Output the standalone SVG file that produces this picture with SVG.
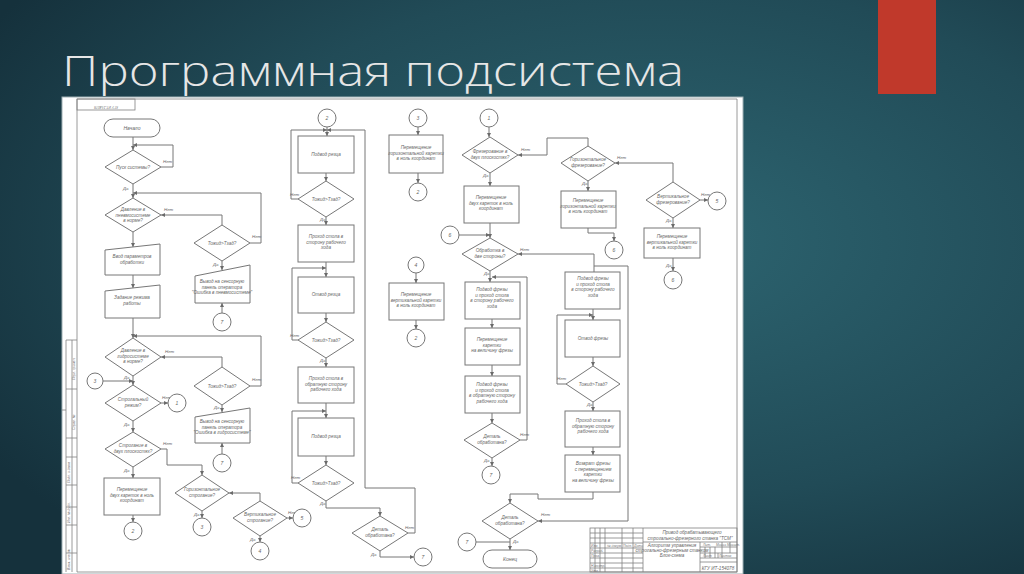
<svg xmlns="http://www.w3.org/2000/svg" width="1024" height="574" viewBox="0 0 1024 574">
<defs>
<radialGradient id="bg" cx="0.64" cy="0.42" r="0.75">
<stop offset="0" stop-color="#2d6571"/>
<stop offset="0.6" stop-color="#214b57"/>
<stop offset="1" stop-color="#15313c"/>
</radialGradient>
<marker id="ar" viewBox="0 0 6 6" refX="6" refY="3" markerWidth="4" markerHeight="4" markerUnits="userSpaceOnUse" orient="auto">
<path d="M0,0 L6,3 L0,6 z" fill="#6a6a6a"/>
</marker>
</defs>
<style>
.ln{fill:none;stroke:#777;stroke-width:1}
.sh{fill:#fff;stroke:#777;stroke-width:1}
.fr{fill:none;stroke:#808080;stroke-width:0.8}
.t{font-family:"Liberation Sans",Arial,sans-serif;font-style:italic;font-size:4.6px;fill:#666;text-anchor:middle}
.lb{font-family:"Liberation Sans",Arial,sans-serif;font-style:italic;font-size:4.4px;fill:#666}
.c{font-family:"Liberation Sans",Arial,sans-serif;font-style:italic;font-size:5px;fill:#666;text-anchor:middle}
.s{font-family:"Liberation Sans",Arial,sans-serif;font-style:italic;font-size:3.4px;fill:#777}
</style>
<rect x="0" y="0" width="1024" height="574" fill="url(#bg)"/>
<rect x="878" y="0" width="58" height="94" fill="#c0392b"/>
<text x="62" y="86" font-family="'Open Sans','Liberation Sans',sans-serif" font-weight="300" font-size="42" fill="#e6e6e6" textLength="622" lengthAdjust="spacingAndGlyphs">Программная подсистема</text>

<g id="sheet">
<rect x="62" y="97" width="681" height="477" fill="#fff" stroke="#9fb0b4" stroke-width="1"/>
<polyline class="fr" points="77,572 77,99 737,99 737,572 77,572"/>
<rect class="fr" x="77" y="99" width="58" height="11"/>
<text class="s" x="106" y="103.5" text-anchor="middle" transform="rotate(180 106 104.5)" font-size="4.5">КГУ ИТ-154078</text>
<path class="fr" d="M66,340 V572 M72,340 V572 M66,340 H77 M66,389 H77 M66,438 H77 M66,457 H77 M66,485 H77 M66,507 H77 M66,525 H77 M66,553 H77 M62,410 H66"/>
<text class="s" transform="translate(75,380) rotate(-90)">Перв. примен.</text>
<text class="s" transform="translate(75,430) rotate(-90)">Справ. №</text>
<text class="s" transform="translate(70,483) rotate(-90)">Подп. и дата</text>
<text class="s" transform="translate(70,523) rotate(-90)">Инв. № дубл.</text>
<text class="s" transform="translate(70,570) rotate(-90)">Взам. инв. №</text>
</g>

<g id="titleblock">
<rect class="fr" x="590" y="528" width="147" height="44"/>
<path class="fr" d="M595,528 V572 M600,528 V572 M605,528 V572 M622,528 V572 M633,528 V572 M643,528 V572 M590,533 H643 M590,538 H643 M590,543 H643 M590,548 H643 M590,553 H643 M590,558 H643 M590,563 H643 M590,568 H643 M643,542 H737 M700,542 V572 M700,547 H737 M700,553 H737 M700,558 H737 M705,547 V558 M710,547 V558 M715,547 V558 M722,542 V558 M730,542 V553 M718,553 V558 M700,562 H737"/>
<text class="s" x="591" y="546.5">Изм.</text>
<text class="s" x="607" y="546.5">№ докум.</text>
<text class="s" x="623" y="546.5">Подп.</text>
<text class="s" x="634" y="546.5">Дата</text>
<text class="s" x="591" y="551.5">Разраб.</text>
<text class="s" x="591" y="556.5">Пров.</text>
<text class="s" x="591" y="566.5">Н.контр.</text>
<text class="s" x="591" y="571.5">Утв.</text>
<text class="s" x="703" y="546">Лит.</text>
<text class="s" x="716" y="546">Масса</text>
<text class="s" x="727" y="546">Масшт.</text>
<text class="s" x="703" y="556.5">Лист</text>
<text class="s" x="719" y="556.5">Листов</text>
<text class="t" x="692" y="534">Привод обрабатывающего</text>
<text class="t" x="690" y="539.5">строгально-фрезерного станка "ТСМ"</text>
<text class="t" x="672" y="547">Алгоритм управления</text>
<text class="t" x="672" y="552">строгально-фрезерным станком</text>
<text class="t" x="672" y="557">Блок-схема</text>
<text class="t" x="718" y="569.5" font-size="5.5">КГУ ИТ-154078</text>
</g>

<g id="connectors">
<path class="ln" d="M133,137 V150" marker-end="url(#ar)"/>
<path class="ln" d="M161,167 H173 V145 H133" marker-end="url(#ar)"/>
<path class="ln" d="M133,184 V198" marker-end="url(#ar)"/>
<path class="ln" d="M250,243 H261 V193 H133" marker-end="url(#ar)"/>
<path class="ln" d="M222,225 V215 H161" marker-end="url(#ar)"/>
<path class="ln" d="M222,261 V270" marker-end="url(#ar)"/>
<path class="ln" d="M222,313 V303" marker-end="url(#ar)"/>
<path class="ln" d="M133,232 V247" marker-end="url(#ar)"/>
<path class="ln" d="M133,275 V288" marker-end="url(#ar)"/>
<path class="ln" d="M133,318 V338" marker-end="url(#ar)"/>
<path class="ln" d="M250,386 H261 V336 H133" marker-end="url(#ar)"/>
<path class="ln" d="M222,367 V357 H161" marker-end="url(#ar)"/>
<path class="ln" d="M222,405 V412" marker-end="url(#ar)"/>
<path class="ln" d="M222,454 V443" marker-end="url(#ar)"/>
<path class="ln" d="M103,381 H133" marker-end="url(#ar)"/>
<path class="ln" d="M133,376 V385" marker-end="url(#ar)"/>
<path class="ln" d="M161,403 H168" marker-end="url(#ar)"/>
<path class="ln" d="M133,421 V432" marker-end="url(#ar)"/>
<path class="ln" d="M161,449 H167 V465 H202 V475" marker-end="url(#ar)"/>
<path class="ln" d="M133,467 V478" marker-end="url(#ar)"/>
<path class="ln" d="M133,515 V522" marker-end="url(#ar)"/>
<path class="ln" d="M202,511 V518" marker-end="url(#ar)"/>
<path class="ln" d="M260,501 V493 H229" marker-end="url(#ar)"/>
<path class="ln" d="M287,518 H293" marker-end="url(#ar)"/>
<path class="ln" d="M260,536 V542" marker-end="url(#ar)"/>

<path class="ln" d="M327,127 V136" marker-end="url(#ar)"/>
<path class="ln" d="M408,533 H415 V488 H365 V130 H327" marker-end="url(#ar)"/>
<path class="ln" d="M298,199 H291 V130 H327" marker-end="url(#ar)"/>
<path class="ln" d="M326,173 V181" marker-end="url(#ar)"/>
<path class="ln" d="M326,217 V225" marker-end="url(#ar)"/>
<path class="ln" d="M326,262 V277" marker-end="url(#ar)"/>
<path class="ln" d="M298,340 H292 V268 H326" marker-end="url(#ar)"/>
<path class="ln" d="M326,313 V322" marker-end="url(#ar)"/>
<path class="ln" d="M326,358 V367" marker-end="url(#ar)"/>
<path class="ln" d="M326,403 V418" marker-end="url(#ar)"/>
<path class="ln" d="M298,483 H292 V411 H326" marker-end="url(#ar)"/>
<path class="ln" d="M326,456 V465" marker-end="url(#ar)"/>
<path class="ln" d="M326,501 V508 H380 V516" marker-end="url(#ar)"/>
<path class="ln" d="M380,551 V557 H414" marker-end="url(#ar)"/>

<path class="ln" d="M418,127 V135" marker-end="url(#ar)"/>
<path class="ln" d="M418,173 V183" marker-end="url(#ar)"/>
<path class="ln" d="M416,273 V283" marker-end="url(#ar)"/>
<path class="ln" d="M416,320 V329" marker-end="url(#ar)"/>

<path class="ln" d="M489,127 V137" marker-end="url(#ar)"/>
<path class="ln" d="M588,146 V138 H547 V155 H518" marker-end="url(#ar)"/>
<path class="ln" d="M490,173 V186" marker-end="url(#ar)"/>
<path class="ln" d="M490,223 V238" marker-end="url(#ar)"/>
<path class="ln" d="M459,235 H490" marker-end="url(#ar)"/>
<path class="ln" d="M594,272 V254 H518" marker-end="url(#ar)"/>
<path class="ln" d="M490,271 V282" marker-end="url(#ar)"/>
<path class="ln" d="M520,440 H527 V277 H492" marker-end="url(#ar)"/>
<path class="ln" d="M492,319 V328" marker-end="url(#ar)"/>
<path class="ln" d="M492,365 V376" marker-end="url(#ar)"/>
<path class="ln" d="M492,413 V423" marker-end="url(#ar)"/>
<path class="ln" d="M492,458 V466" marker-end="url(#ar)"/>

<path class="ln" d="M673,182 V163 H615" marker-end="url(#ar)"/>
<path class="ln" d="M588,181 V191" marker-end="url(#ar)"/>
<path class="ln" d="M588,228 V233 H614 V241" marker-end="url(#ar)"/>
<path class="ln" d="M700,200 H708" marker-end="url(#ar)"/>
<path class="ln" d="M673,218 V228" marker-end="url(#ar)"/>
<path class="ln" d="M673,258 V271" marker-end="url(#ar)"/>

<path class="ln" d="M593,309 V320" marker-end="url(#ar)"/>
<path class="ln" d="M566,384 H557 V315 H593" marker-end="url(#ar)"/>
<path class="ln" d="M593,357 V366" marker-end="url(#ar)"/>
<path class="ln" d="M593,402 V411" marker-end="url(#ar)"/>
<path class="ln" d="M593,447 V455" marker-end="url(#ar)"/>
<path class="ln" d="M593,492 V499 H538 V494 H510 V503" marker-end="url(#ar)"/>
<path class="ln" d="M594,266 H628 V521 H538" marker-end="url(#ar)"/>
<path class="ln" d="M510,539 V550" marker-end="url(#ar)"/>
<path class="ln" d="M476,542 H510"/>
</g>

<g id="labels">
<text class="lb" x="163" y="163">Нет</text>
<text class="lb" x="123" y="190">Да</text>
<text class="lb" x="164" y="211">Нет</text>
<text class="lb" x="252" y="238">Нет</text>
<text class="lb" x="213" y="266">Да</text>
<text class="lb" x="165" y="353">Нет</text>
<text class="lb" x="252" y="381">Нет</text>
<text class="lb" x="214" y="409">Да</text>
<text class="lb" x="124" y="379">Да</text>
<text class="lb" x="162" y="399">Нет</text>
<text class="lb" x="124" y="426">Да</text>
<text class="lb" x="163" y="445">Нет</text>
<text class="lb" x="124" y="472">Да</text>
<text class="lb" x="194" y="516">Да</text>
<text class="lb" x="288" y="514">Нет</text>
<text class="lb" x="250" y="541">Да</text>
<text class="lb" x="290" y="196">Нет</text>
<text class="lb" x="320" y="221">Да</text>
<text class="lb" x="290" y="337">Нет</text>
<text class="lb" x="320" y="362">Да</text>
<text class="lb" x="291" y="479">Нет</text>
<text class="lb" x="320" y="505">Да</text>
<text class="lb" x="405" y="529">Нет</text>
<text class="lb" x="371" y="556">Да</text>
<text class="lb" x="521" y="151">Нет</text>
<text class="lb" x="483" y="177">Да</text>
<text class="lb" x="520" y="251">Нет</text>
<text class="lb" x="484" y="275">Да</text>
<text class="lb" x="520" y="436">Нет</text>
<text class="lb" x="484" y="462">Да</text>
<text class="lb" x="617" y="159">Нет</text>
<text class="lb" x="582" y="185">Да</text>
<text class="lb" x="701" y="196">Нет</text>
<text class="lb" x="666" y="222">Да</text>
<text class="lb" x="666" y="267">Да</text>
<text class="lb" x="557" y="380">Нет</text>
<text class="lb" x="587" y="406">Да</text>
<text class="lb" x="541" y="516">Нет</text>
<text class="lb" x="513" y="543">Да</text>
</g>

<g id="n_start"><rect class="sh" x="104" y="119" width="56" height="18" rx="9"/><text class="c" x="132" y="130">Начало</text></g>
<g id="n_pusk"><polygon class="sh" points="133,150 161,167 133,184 105,167"/><text class="t" x="133" y="169">Пуск системы?</text></g>
<g id="n_pnevmo"><polygon class="sh" points="133,198 161,215 133,232 105,215"/><text class="t" x="133" y="211">Давление в</text><text class="t" x="133" y="216.5">пневмосистеме</text><text class="t" x="133" y="222">в норме?</text></g>
<g id="n_tozh1"><polygon class="sh" points="222,225 250,243 222,261 194,243"/><text class="t" x="222" y="245">Тожид&gt;Тзад?</text></g>
<g id="n_err1"><polygon class="sh" points="195,276 250,265 250,303 195,303"/><text class="t" x="222" y="283">Вывод на сенсорную</text><text class="t" x="222" y="288.5">панель оператора</text><text class="t" x="222" y="294" font-size="4.2">"Ошибка в пневмосистеме"</text></g>
<g id="n_c7a"><circle class="sh" cx="222" cy="322" r="9"/><text class="c" x="222" y="324">7</text></g>
<g id="n_vvod"><polygon class="sh" points="105,250 160,244 160,275 105,275"/><text class="t" x="132" y="258">Ввод параметров</text><text class="t" x="132" y="264">обработки</text></g>
<g id="n_zad"><polygon class="sh" points="105,291 160,285 160,318 105,318"/><text class="t" x="132" y="299">Задание режима</text><text class="t" x="132" y="305">работы</text></g>
<g id="n_gidro"><polygon class="sh" points="133,338 161,357 133,376 105,357"/><text class="t" x="133" y="352">Давление в</text><text class="t" x="133" y="357.5">гидросистеме</text><text class="t" x="133" y="363">в норме?</text></g>
<g id="n_tozh2"><polygon class="sh" points="222,367 250,386 222,405 194,386"/><text class="t" x="222" y="388">Тожид&gt;Тзад?</text></g>
<g id="n_err2"><polygon class="sh" points="195,417 250,408 250,443 195,443"/><text class="t" x="222" y="423">Вывод на сенсорную</text><text class="t" x="222" y="428.5">панель оператора</text><text class="t" x="222" y="434" font-size="4.2">"Ошибка в гидросистеме"</text></g>
<g id="n_c7b"><circle class="sh" cx="222" cy="463" r="9"/><text class="c" x="222" y="465">7</text></g>
<g id="n_c3a"><circle class="sh" cx="95" cy="381" r="8"/><text class="c" x="95" y="383">3</text></g>
<g id="n_strog"><polygon class="sh" points="133,385 161,403 133,421 105,403"/><text class="t" x="133" y="401">Строгальный</text><text class="t" x="133" y="407">режим?</text></g>
<g id="n_c1a"><circle class="sh" cx="177" cy="403" r="9"/><text class="c" x="177" y="405">1</text></g>
<g id="n_strog2"><polygon class="sh" points="133,432 161,449 133,467 105,449"/><text class="t" x="133" y="447">Строгание в</text><text class="t" x="133" y="453">двух плоскостях?</text></g>
<g id="n_per2"><rect class="sh" x="104" y="478" width="56" height="37"/><text class="t" x="132" y="491">Перемещение</text><text class="t" x="132" y="496.5">двух кареток в ноль</text><text class="t" x="132" y="502">координат</text></g>
<g id="n_c2a"><circle class="sh" cx="133" cy="531" r="9"/><text class="c" x="133" y="533">2</text></g>
<g id="n_horstr"><polygon class="sh" points="202,475 229,493 202,511 175,493"/><text class="t" x="202" y="491">Горизонтальное</text><text class="t" x="202" y="497">строгание?</text></g>
<g id="n_c3b"><circle class="sh" cx="202" cy="527" r="9"/><text class="c" x="202" y="529">3</text></g>
<g id="n_verstr"><polygon class="sh" points="260,501 287,518 260,536 233,518"/><text class="t" x="260" y="516">Вертикальное</text><text class="t" x="260" y="522">строгание?</text></g>
<g id="n_c5a"><circle class="sh" cx="302" cy="518" r="9"/><text class="c" x="302" y="520">5</text></g>
<g id="n_c4a"><circle class="sh" cx="260" cy="551" r="9"/><text class="c" x="260" y="553">4</text></g>

<g id="n_c2b"><circle class="sh" cx="327" cy="118" r="9"/><text class="c" x="327" y="120">2</text></g>
<g id="n_podvod1"><rect class="sh" x="298" y="136" width="56" height="37"/><text class="t" x="326" y="156">Подвод резца</text></g>
<g id="n_t1"><polygon class="sh" points="326,181 354,199 326,217 298,199"/><text class="t" x="326" y="201">Тожид&gt;Тзад?</text></g>
<g id="n_proh1"><rect class="sh" x="298" y="225" width="56" height="37"/><text class="t" x="326" y="238">Проход стола в</text><text class="t" x="326" y="243.5">сторону рабочего</text><text class="t" x="326" y="249">хода</text></g>
<g id="n_otvod"><rect class="sh" x="298" y="277" width="56" height="36"/><text class="t" x="326" y="296">Отвод резца</text></g>
<g id="n_t2"><polygon class="sh" points="326,322 354,340 326,358 298,340"/><text class="t" x="326" y="342">Тожид&gt;Тзад?</text></g>
<g id="n_proh2"><rect class="sh" x="298" y="367" width="56" height="36"/><text class="t" x="326" y="380">Проход стола в</text><text class="t" x="326" y="385.5">обратную сторону</text><text class="t" x="326" y="391">рабочего хода</text></g>
<g id="n_podvod2"><rect class="sh" x="298" y="418" width="56" height="38"/><text class="t" x="326" y="438">Подвод резца</text></g>
<g id="n_t3"><polygon class="sh" points="326,465 354,483 326,501 298,483"/><text class="t" x="326" y="485">Тожид&gt;Тзад?</text></g>
<g id="n_det0"><polygon class="sh" points="380,516 408,533 380,551 352,533"/><text class="t" x="380" y="531">Деталь</text><text class="t" x="380" y="537">обработана?</text></g>
<g id="n_c7c"><circle class="sh" cx="423" cy="557" r="9"/><text class="c" x="423" y="559">7</text></g>

<g id="n_c3c"><circle class="sh" cx="418" cy="118" r="9"/><text class="c" x="418" y="120">3</text></g>
<g id="n_hor0"><rect class="sh" x="389" y="135" width="54" height="38"/><text class="t" x="416" y="149">Перемещение</text><text class="t" x="416" y="154.5">горизонтальной каретки</text><text class="t" x="416" y="160">в ноль координат</text></g>
<g id="n_c2c"><circle class="sh" cx="418" cy="192" r="9"/><text class="c" x="418" y="194">2</text></g>
<g id="n_c4b"><circle class="sh" cx="416" cy="265" r="8"/><text class="c" x="416" y="267">4</text></g>
<g id="n_ver0"><rect class="sh" x="389" y="283" width="55" height="37"/><text class="t" x="416" y="296">Перемещение</text><text class="t" x="416" y="301.5">вертикальной каретки</text><text class="t" x="416" y="307">в ноль координат</text></g>
<g id="n_c2d"><circle class="sh" cx="416" cy="338" r="9"/><text class="c" x="416" y="340">2</text></g>

<g id="n_c1b"><circle class="sh" cx="489" cy="118" r="9"/><text class="c" x="489" y="120">1</text></g>
<g id="n_frez2"><polygon class="sh" points="490,137 518,155 490,173 462,155"/><text class="t" x="490" y="153">Фрезерование в</text><text class="t" x="490" y="159">двух плоскостях?</text></g>
<g id="n_per2f"><rect class="sh" x="464" y="186" width="55" height="37"/><text class="t" x="491" y="199">Перемещение</text><text class="t" x="491" y="204.5">двух кареток в ноль</text><text class="t" x="491" y="210">координат</text></g>
<g id="n_c6a"><circle class="sh" cx="450" cy="235" r="9"/><text class="c" x="450" y="237">6</text></g>
<g id="n_obr"><polygon class="sh" points="490,238 518,254 490,271 462,254"/><text class="t" x="490" y="252">Обработка в</text><text class="t" x="490" y="258">две стороны?</text></g>
<g id="n_pf1"><rect class="sh" x="465" y="282" width="55" height="37"/><text class="t" x="492" y="291">Подвод фрезы</text><text class="t" x="492" y="296.5">и проход стола</text><text class="t" x="492" y="302">в сторону рабочего</text><text class="t" x="492" y="307.5">хода</text></g>
<g id="n_pk"><rect class="sh" x="465" y="328" width="55" height="37"/><text class="t" x="492" y="341">Перемещение</text><text class="t" x="492" y="346.5">каретки</text><text class="t" x="492" y="352">на величину фрезы</text></g>
<g id="n_pf2"><rect class="sh" x="465" y="376" width="55" height="37"/><text class="t" x="492" y="386">Подвод фрезы</text><text class="t" x="492" y="391.5">и проход стола</text><text class="t" x="492" y="397">в обратную сторону</text><text class="t" x="492" y="402.5">рабочего хода</text></g>
<g id="n_det1"><polygon class="sh" points="492,423 520,440 492,458 464,440"/><text class="t" x="492" y="438">Деталь</text><text class="t" x="492" y="444">обработана?</text></g>
<g id="n_c7d"><circle class="sh" cx="491" cy="475" r="9"/><text class="c" x="491" y="477">7</text></g>

<g id="n_horfr"><polygon class="sh" points="588,146 615,163 588,181 561,163"/><text class="t" x="588" y="161">Горизонтальное</text><text class="t" x="588" y="167">фрезерование?</text></g>
<g id="n_hor0f"><rect class="sh" x="561" y="191" width="55" height="37"/><text class="t" x="588" y="202">Перемещение</text><text class="t" x="588" y="207.5">горизонтальной каретки</text><text class="t" x="588" y="213">в ноль координат</text></g>
<g id="n_c6b"><circle class="sh" cx="614" cy="250" r="9"/><text class="c" x="614" y="252">6</text></g>
<g id="n_verfr"><polygon class="sh" points="673,182 700,200 673,218 646,200"/><text class="t" x="673" y="198">Вертикальное</text><text class="t" x="673" y="204">фрезерование?</text></g>
<g id="n_c5b"><circle class="sh" cx="717" cy="201" r="9"/><text class="c" x="717" y="203">5</text></g>
<g id="n_ver0f"><rect class="sh" x="644" y="228" width="56" height="30"/><text class="t" x="672" y="238">Перемещение</text><text class="t" x="672" y="243.5">вертикальной каретки</text><text class="t" x="672" y="249">в ноль координат</text></g>
<g id="n_c6c"><circle class="sh" cx="673" cy="280" r="9"/><text class="c" x="673" y="282">6</text></g>

<g id="n_pf3"><rect class="sh" x="565" y="272" width="55" height="37"/><text class="t" x="593" y="280">Подвод фрезы</text><text class="t" x="593" y="285.5">и проход стола</text><text class="t" x="593" y="291">в сторону рабочего</text><text class="t" x="593" y="296.5">хода</text></g>
<g id="n_otf"><rect class="sh" x="565" y="320" width="55" height="37"/><text class="t" x="593" y="340">Отвод фрезы</text></g>
<g id="n_t4"><polygon class="sh" points="593,366 620,384 593,402 566,384"/><text class="t" x="593" y="386">Тожид&gt;Тзад?</text></g>
<g id="n_proh3"><rect class="sh" x="565" y="411" width="55" height="36"/><text class="t" x="593" y="422">Проход стола в</text><text class="t" x="593" y="427.5">обратную сторону</text><text class="t" x="593" y="433">рабочего хода</text></g>
<g id="n_vozv"><rect class="sh" x="565" y="455" width="55" height="37"/><text class="t" x="593" y="465">Возврат фрезы</text><text class="t" x="593" y="470.5">с перемещением</text><text class="t" x="593" y="476">каретки</text><text class="t" x="593" y="481.5">на величину фрезы</text></g>
<g id="n_det2"><polygon class="sh" points="510,503 538,521 510,539 482,521"/><text class="t" x="510" y="519">Деталь</text><text class="t" x="510" y="525">обработана?</text></g>
<g id="n_c7e"><circle class="sh" cx="467" cy="542" r="9"/><text class="c" x="467" y="544">7</text></g>
<g id="n_end"><rect class="sh" x="483" y="550" width="54" height="18" rx="9"/><text class="c" x="510" y="561">Конец</text></g>
</svg>
